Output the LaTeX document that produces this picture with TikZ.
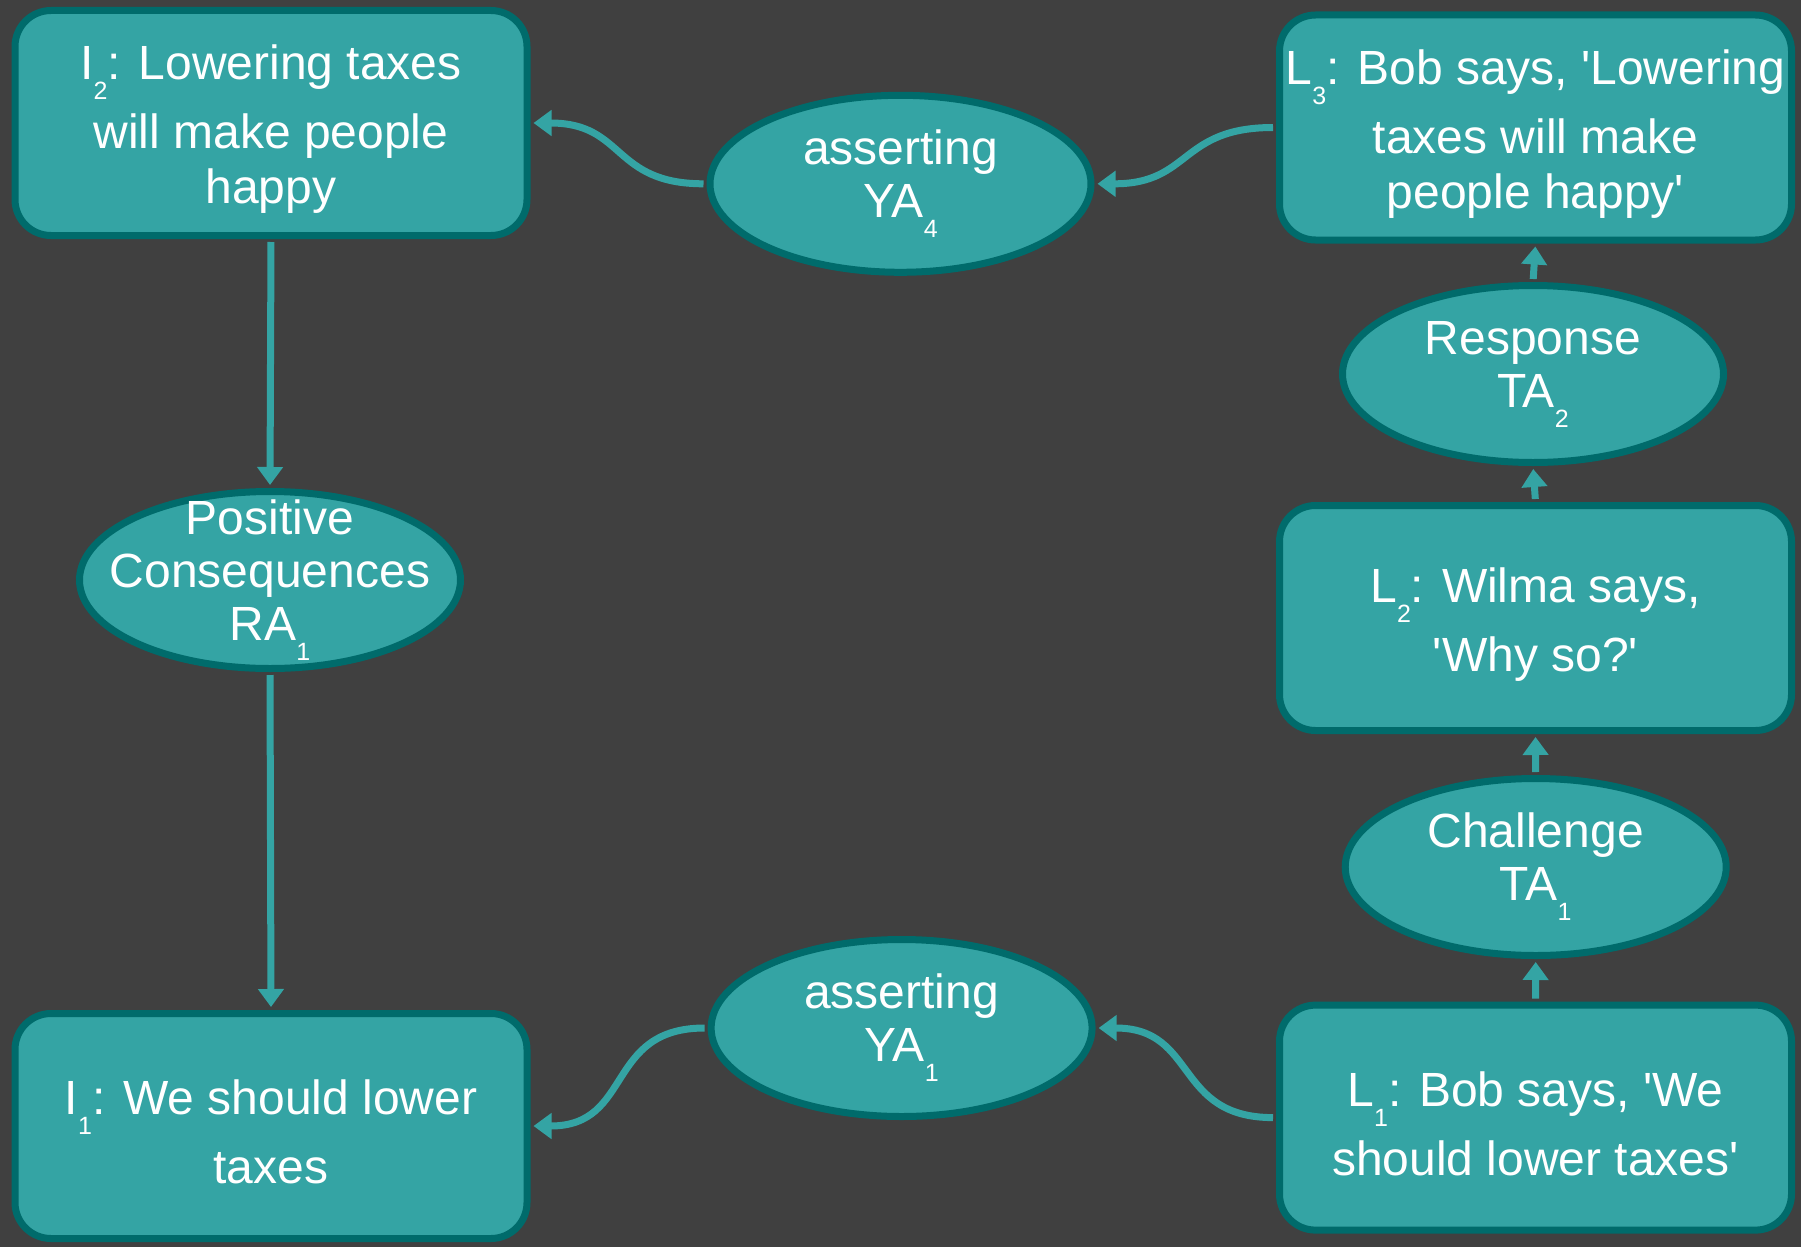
\documentclass[tikz,border=0pt]{standalone}
\usepackage{fontspec}
\setmainfont{Liberation Sans}
\usetikzlibrary{shapes.geometric,arrows.meta}
\definecolor{bg}{HTML}{404040}
\definecolor{tealfill}{HTML}{34A4A4}
\definecolor{tealline}{HTML}{006B6B}
\newcommand{\sbs}[1]{\raisebox{-20pt}[0pt][0pt]{\fontsize{25}{25}\selectfont #1}}
\newcommand{\sbe}[1]{\raisebox{-20pt}{\fontsize{25}{25}\selectfont #1}}
\newcommand{\qs}{\textquotesingle}
\newcommand{\tstrut}{\rule{0pt}{47pt}}
\tikzset{
  boxnode/.style={draw=tealline, fill=tealfill, line width=7pt, rounded corners=36pt,
    minimum width=512pt, minimum height=225pt, inner sep=0pt, align=center,
    text=white, font=\fontsize{48}{55}\selectfont},
  ellnode/.style={ellipse, draw=tealline, fill=tealfill, line width=7pt,
    minimum width=381pt, minimum height=177pt, inner sep=0pt},
  elltext/.style={align=center, inner sep=0pt, text=white, font=\fontsize{48}{53}\selectfont},
  conn/.style={draw=tealfill, line width=7pt, -{Triangle[width=25pt,length=18pt]},
    shorten >=3pt, shorten <=3pt}
}
\begin{document}
\begin{tikzpicture}[x=1pt,y=-1pt]
\fill[bg] (0,0) rectangle (1801,1247);
\useasboundingbox (0,0) rectangle (1801,1247);
% boxes
\node[boxnode] (I2) at (271,123) {\tstrut I\sbs{2}: Lowering taxes\\[14pt]will make people\\happy};
\node[boxnode] (I1) at (271,1126) {\tstrut I\sbs{1}: We should lower\\[14pt]taxes};
\node[boxnode] (L3) at (1535.5,127.5) {\tstrut L\sbs{3}: Bob says, \qs Lowering\\[14pt]taxes will make\\people happy\qs};
\node[boxnode] (L2) at (1535.5,618) {\tstrut L\sbs{2}: Wilma says,\\[14pt]\qs Why so?\qs};
\node[boxnode] (L1) at (1535.5,1117.6) {\tstrut L\sbs{1}: Bob says, \qs We\\[14pt]should lower taxes\qs};
% ellipses
\node[ellnode, label={[elltext]center:asserting\\YA\sbe{4}}] (YA4) at (900.5,183.8) {};
\node[ellnode, label={[elltext]center:asserting\\YA\sbe{1}}] (YA1) at (901.6,1028) {};
\node[ellnode, label={[elltext]center:Response\\TA\sbe{2}}] (TA2) at (1533,374) {};
\node[ellnode, label={[elltext]center:Challenge\\TA\sbe{1}}] (TA1) at (1535.7,867) {};
\node[ellnode, label={[elltext]center:Positive\\Consequences\\RA\sbe{1}}] (RA1) at (270,580) {};
% connectors
\draw[conn] (I2.south) -- (RA1.north);
\draw[conn] (RA1.south) -- (I1.north);
\draw[conn] (YA4.west) to[out=180,in=0,looseness=1.3] (I2.east);
\draw[conn] (L3.west) to[out=180,in=0,looseness=1.3] (YA4.east);
\draw[conn] (L1.west) to[out=180,in=0,looseness=1.3] (YA1.east);
\draw[conn] (YA1.west) to[out=180,in=0,looseness=1.3] (I1.east);
\draw[conn] (L1.north) -- (TA1.south);
\draw[conn] (TA1.north) -- (L2.south);
\draw[conn] (L2.north) -- (TA2.south);
\draw[conn] (TA2.north) -- (L3.south);
\end{tikzpicture}
\end{document}
